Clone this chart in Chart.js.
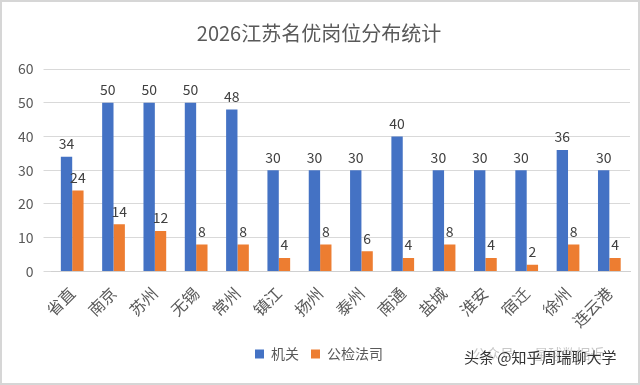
<!DOCTYPE html>
<html>
<head>
<meta charset="utf-8">
<script src="https://cdn.jsdelivr.net/npm/chart.js@4/dist/chart.umd.min.js"></script>
<style>
html,body{margin:0;padding:0;background:#fff;}
#wrap{position:relative;width:640px;height:385px;box-sizing:border-box;border:2px solid #d6d6d6;}
#wm1{position:absolute;left:470px;top:341px;font:14px "Noto Sans CJK SC";color:#c8c8c8;}
#wm2{position:absolute;left:462px;top:344px;font:15px "Noto Sans CJK SC";color:#333;text-shadow:0 0 2px #fff,0 0 2px #fff;}
</style>
</head>
<body>
<div id="wrap">
<canvas id="c" width="636" height="381"></canvas>
<div id="wm1">公众号 · 星球数据近</div>
<div id="wm2">头条 @知乎周瑞聊大学</div>
</div>
<script>
const cities=["省直","南京","苏州","无锡","常州","镇江","扬州","泰州","南通","盐城","淮安","宿迁","徐州","连云港"];
const jiguan=[34,50,50,50,48,30,30,30,40,30,30,30,36,30];
const gjfs=[24,14,12,8,8,4,8,6,4,8,4,2,8,4];
const yTicks=[0,10,20,30,40,50,60];

const font="'Noto Sans CJK SC', 'Noto Sans', sans-serif";

/* value labels above bars */
const barLabels={
id:"barLabels",
afterDatasetsDraw(chart){
let ctx=chart.ctx;
ctx.save();
ctx.font="14px "+font;
ctx.fillStyle="#404040";
ctx.textAlign="center";
ctx.textBaseline="bottom";
chart.data.datasets.forEach((ds,i)=>{
chart.getDatasetMeta(i).data.forEach((bar,j)=>{
ctx.fillText(ds.data[j],bar.x,bar.y-6);
});
});
ctx.restore();
}
};

new Chart(document.getElementById("c"),{
type:"bar",
data:{
labels:cities,
datasets:[
{label:"机关",data:jiguan,backgroundColor:"#4472C4"},
{label:"公检法司",data:gjfs,backgroundColor:"#ED7D31"}
]},
options:{
responsive:false,
animation:false,
categoryPercentage:0.55,
barPercentage:1,
layout:{padding:{left:6,right:8,top:0,bottom:12}},
plugins:{
title:{display:true,text:"2026江苏名优岗位分布统计",color:"#595959",
font:{family:font,size:20,weight:"normal"},padding:{top:19,bottom:24}},
legend:{position:"bottom",
labels:{color:"#595959",font:{family:font,size:14},boxWidth:9,boxHeight:9,padding:12},
onClick:null},
tooltip:{enabled:false}
},
scales:{
x:{grid:{display:false},border:{color:"#d0d0d0"},
ticks:{color:"#595959",font:{family:font,size:16},maxRotation:45,minRotation:45,padding:4}},
y:{min:0,max:60,
afterBuildTicks(ax){ax.ticks=yTicks.map(v=>({value:v}));},
grid:{color:"#d9d9d9"},border:{display:false},
ticks:{color:"#595959",font:{family:font,size:14},padding:10}}
}
},
plugins:[barLabels]
});
</script>
</body>
</html>
